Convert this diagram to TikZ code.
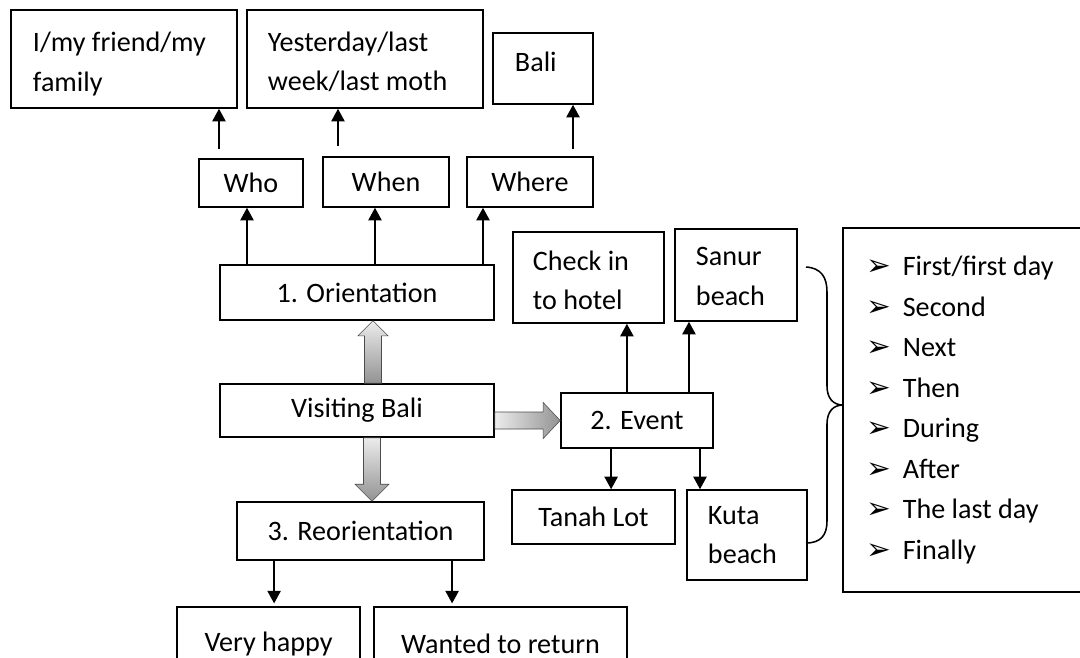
\documentclass[tikz,border=0pt]{standalone}
\usepackage{fontspec}
\setmainfont{Carlito}
\newfontfamily\symfont{DejaVu Sans}
\usetikzlibrary{arrows.meta,calc}

\tikzset{
	box/.style={draw, line width=1.1pt, inner sep=0pt, align=center},
	lbox/.style={box, align=flush left, inner xsep=#1},
	lbox/.default=.55cm,
	arr/.style={line width=1.1pt, -{Triangle[length=9pt,width=9.5pt]}},
	fatv/.style={draw=gray!60!black, line width=.4pt, top color=gray!15, bottom color=gray!85},
	fath/.style={draw=gray!60!black, line width=.4pt, left color=gray!15, right color=gray!85},
}
\newcommand{\bul}{\makebox[25.5pt][l]{\symfont\fontsize{21}{21}\selectfont ➢}}

\begin{document}
\begin{tikzpicture}[x=0.025cm, y=-0.025cm, font=\fontsize{20}{28}\selectfont]
		\useasboundingbox[fill=white] (0,0) rectangle (1080,658);

		% top row
		\node[lbox, minimum width=5.65cm, minimum height=2.45cm, text width=4.55cm, text depth=24pt] (fam) at (124,59) {I/my~friend/my\\family};
		\node[lbox=.525cm, minimum width=5.9cm, minimum height=2.45cm, text width=4.85cm, text depth=25pt] (yest) at (365,59) {Yesterday/last\\week/last~moth};
		\node[lbox, minimum width=2.5cm, minimum height=1.775cm, text width=1.4cm, text depth=9pt] (bali) at (543,68.5) {Bali};

		\node[box, minimum width=2.6cm, minimum height=1.2cm, text depth=0pt] (who) at (251,183) {Who};
		\node[box, minimum width=3.15cm, minimum height=1.25cm, text depth=0pt] (when) at (386,182) {When};
		\node[box, minimum width=3.15cm, minimum height=1.25cm, text depth=0pt] (where) at (530,182) {Where};

		% main column
		\node[box, minimum width=6.85cm, minimum height=1.375cm] (orient) at (357,292.5) {1. Orientation};
		\node[box, minimum width=6.85cm, minimum height=1.325cm] (visit) at (357,410.5) {Visiting Bali};
		\node[box, minimum width=6.175cm, minimum height=1.45cm] (reor) at (360.5,531) {3. Reorientation};
		\node[box, minimum width=4.575cm, minimum height=1.825cm] (happy) at (268.5,643.5) {Very happy};
		\node[box, minimum width=6.325cm, minimum height=1.825cm] (wanted) at (500.5,643.5) {Wanted to return};

		% event
		\node[box, minimum width=3.8cm, minimum height=1.375cm] (event) at (637,420.5) {2. Event};
		\node[lbox=.5cm, minimum width=3.775cm, minimum height=2.275cm, text width=2.775cm, text depth=24pt] (checkin) at (588.5,277.5) {Check in\\to hotel};
		\node[lbox=.525cm, minimum width=3.05cm, minimum height=2.3cm, text width=2cm, text depth=26pt] (sanur) at (736,275) {Sanur\\beach};
		\node[box, minimum width=4.075cm, minimum height=1.35cm] (tanah) at (593.5,517) {Tanah Lot};
		\node[lbox=.525cm, minimum width=3cm, minimum height=2.25cm, text width=1.95cm] (kuta) at (747,535) {Kuta\\beach};

		\node[lbox=.6cm, minimum width=6.175cm, minimum height=9.1cm, text width=4.975cm, font=\fontsize{20}{28.8}\selectfont] (words) at (966.5,410) {\bul First/first day\\\bul Second\\\bul Next\\\bul Then\\\bul During\\\bul After\\\bul The last day\\\bul Finally};

		% thin arrows
		\draw[arr, shorten <=6.4pt] ([xshift=-.8cm]who.north) -- ([xshift=-.8cm]who.north |- fam.south);
		\draw[arr, shorten <=7pt] ([xshift=-1.2cm]when.north) -- ([xshift=-1.2cm]when.north |- yest.south);
		\draw[arr, shorten <=5pt] ([xshift=1.075cm]where.north) -- ([xshift=1.075cm]where.north |- bali.south);
		\draw[arr] ([xshift=-.1cm]who.south |- orient.north) -- ([xshift=-.1cm]who.south);
		\draw[arr] ([xshift=-.275cm]when.south |- orient.north) -- ([xshift=-.275cm]when.south);
		\draw[arr] ([xshift=-1.175cm]where.south |- orient.north) -- ([xshift=-1.175cm]where.south);
		\draw[arr] ([xshift=.96cm]checkin.south |- event.north) -- ([xshift=.96cm]checkin.south);
		\draw[arr] ([xshift=-1.175cm]sanur.south |- event.north) -- ([xshift=-1.175cm]sanur.south);
		\draw[arr] ([xshift=.44cm]tanah.north |- event.south) -- ([xshift=.44cm]tanah.north);
		\draw[arr] ([xshift=-1.175cm]kuta.north |- event.south) -- ([xshift=-1.175cm]kuta.north);
		\draw[arr, shorten >=2pt] ([xshift=.14cm]happy.north |- reor.south) -- ([xshift=.14cm]happy.north);
		\draw[arr, shorten >=2pt] ([xshift=-1.21cm]wanted.north |- reor.south) -- ([xshift=-1.21cm]wanted.north);

		% fat arrows
		\coordinate (ut) at ([xshift=.4cm]visit.north);
		\coordinate (uh) at (ut |- orient.south);
		\shade[fatv] ($(ut)+(-8.5,0)$) -- ($(uh)+(-8.5,15)$) -- ($(uh)+(-15,15)$) -- (uh) -- ($(uh)+(15,15)$) -- ($(uh)+(8.5,15)$) -- ($(ut)+(8.5,0)$) -- cycle;
		\coordinate (rt) at (visit.east |- event.west);
		\coordinate (rh) at (event.west);
		\shade[fath] ($(rt)+(0,-8.5)$) -- ($(rh)+(-17,-8.5)$) -- ($(rh)+(-17,-18)$) -- (rh) -- ($(rh)+(-17,18)$) -- ($(rh)+(-17,8.5)$) -- ($(rt)+(0,8.5)$) -- cycle;
		\coordinate (dt) at ([xshift=.375cm]visit.south);
		\coordinate (dh) at (dt |- reor.north);
		\shade[fatv] ($(dt)+(-8.5,0)$) -- ($(dh)+(-8.5,-17)$) -- ($(dh)+(-17,-17)$) -- (dh) -- ($(dh)+(17,-17)$) -- ($(dh)+(8.5,-17)$) -- ($(dt)+(8.5,0)$) -- cycle;

		% brace
		\draw[line width=1.1pt] (806,267) .. controls (821,268) and (827,277) .. (827,292) -- (827,386) .. controls (827,398) and (833,405) .. (843,405) .. controls (833,405) and (827,412) .. (827,424) -- (827,521) .. controls (827,535) and (821,543) .. (806,543);
	\end{tikzpicture}
\end{document}
